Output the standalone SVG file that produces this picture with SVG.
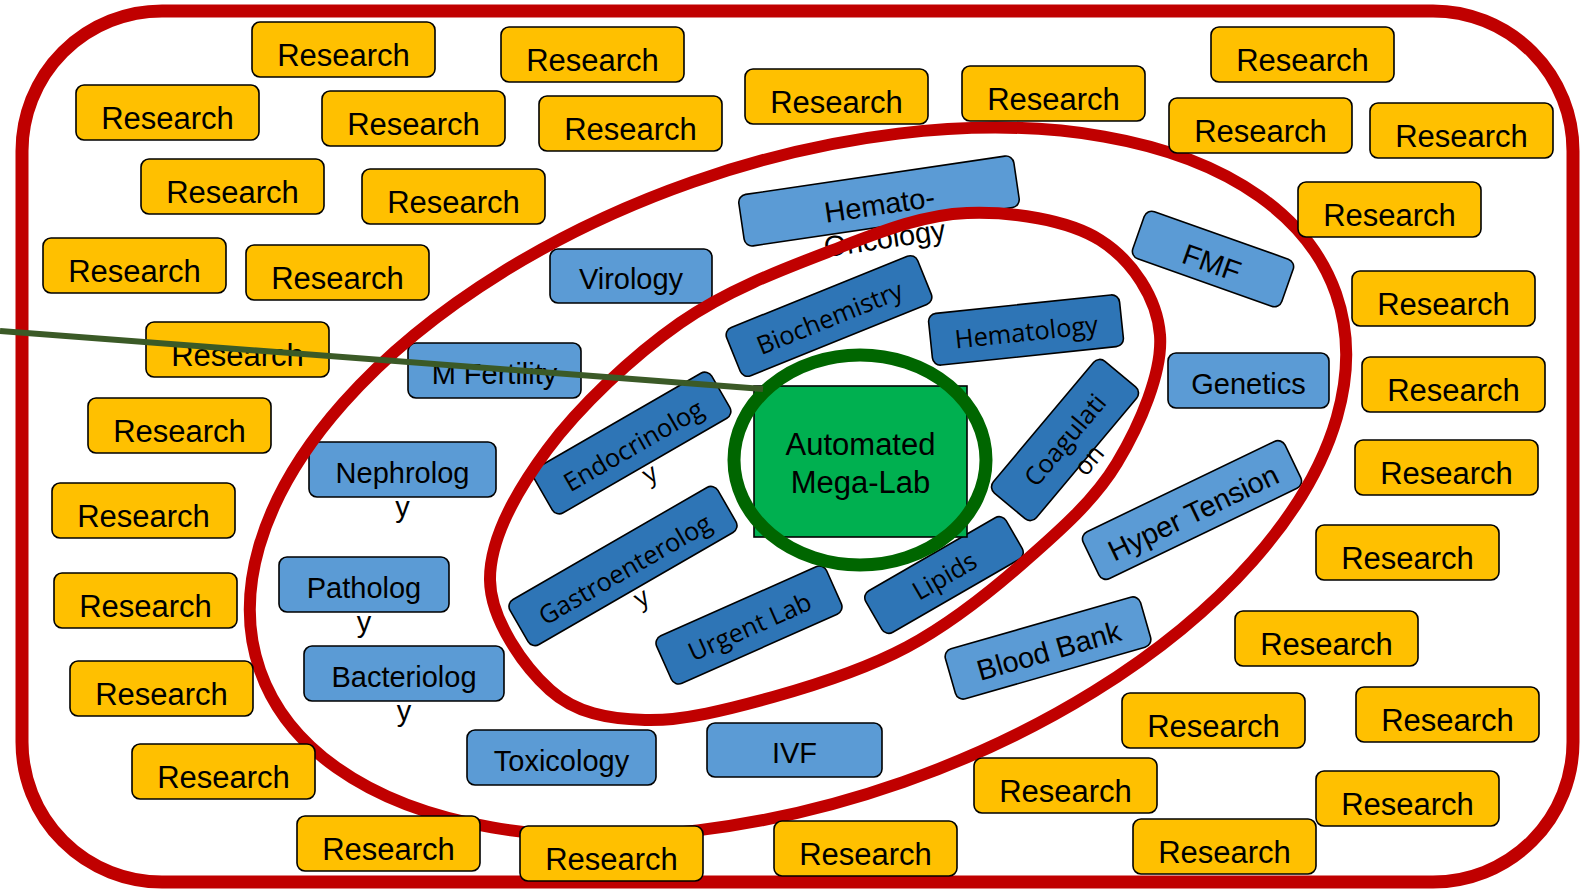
<svg xmlns="http://www.w3.org/2000/svg" width="1580" height="889" viewBox="0 0 1580 889">
<style>
.r{fill:#FFC000;stroke:#000;stroke-width:1.6}
.lb{fill:#5B9BD5;stroke:#000;stroke-width:1.6}
.db{fill:#2E75B6;stroke:#000;stroke-width:1.6}
.t{font-family:"Liberation Sans",Arial,sans-serif;font-size:31px;text-anchor:middle;fill:#000}
.tb{font-family:"Liberation Sans",Arial,sans-serif;font-size:29px;text-anchor:middle;fill:#000}
.td{font-family:"Open Sans","Noto Sans",sans-serif;font-size:25.5px;text-anchor:middle;fill:#000}
.ring{fill:none;stroke:#C00000;stroke-width:12}
</style>
<rect x="0" y="0" width="1580" height="889" fill="#fff"/>
<rect id="frame" x="22" y="11" width="1551" height="871" rx="140" fill="none" stroke="#C00000" stroke-width="13"/>

<g id="n-virology"><rect class="lb" x="550" y="249" width="162" height="54" rx="8"/><text class="tb" x="631" y="289">Virology</text></g>
<g id="n-mfertility"><rect class="lb" x="408" y="343" width="173" height="55" rx="8"/><text class="tb" x="494.5" y="384">M Fertility</text></g>
<g id="n-nephrology"><rect class="lb" x="309" y="442" width="187" height="55" rx="8"/><text class="tb" x="402.5" y="483">Nephrolog</text><text class="tb" x="402.5" y="517">y</text></g>
<g id="n-pathology"><rect class="lb" x="279" y="557" width="170" height="55" rx="8"/><text class="tb" x="364" y="598">Patholog</text><text class="tb" x="364" y="632">y</text></g>
<g id="n-bacteriology"><rect class="lb" x="304" y="646" width="200" height="55" rx="8"/><text class="tb" x="404" y="687">Bacteriolog</text><text class="tb" x="404" y="721">y</text></g>
<g id="n-toxicology"><rect class="lb" x="467" y="730" width="189" height="55" rx="8"/><text class="tb" x="561.5" y="771">Toxicology</text></g>
<g id="n-ivf"><rect class="lb" x="707" y="723" width="175" height="54" rx="8"/><text class="tb" x="794.5" y="763">IVF</text></g>
<g id="n-genetics"><rect class="lb" x="1168" y="353" width="161" height="55" rx="8"/><text class="tb" x="1248.5" y="394">Genetics</text></g>
<g id="n-hemonc" transform="translate(879,201) rotate(-8.4)"><rect class="lb" x="-139" y="-26" width="278" height="52" rx="8"/><text class="tb" y="13.8">Hemato-</text><text class="tb" y="47.8">Oncology</text></g>
<g id="n-hypertension" transform="translate(1192,510) rotate(-25.7)"><rect class="lb" x="-112" y="-26" width="224" height="52" rx="8"/><text class="tb" y="13">Hyper Tension</text></g>
<g id="n-bloodbank" transform="translate(1048,648) rotate(-16)"><rect class="lb" x="-101.5" y="-26" width="203" height="52" rx="8"/><text class="tb" y="13">Blood Bank</text></g>

<g id="n-biochemistry" transform="translate(829,316) rotate(-22)"><rect class="db" x="-103" y="-26" width="206" height="52" rx="8"/><text class="td" y="11">Biochemistry</text></g>
<g id="n-hematology" transform="translate(1026,330) rotate(-6)"><rect class="db" x="-96" y="-26" width="192" height="52" rx="8"/><text class="td" y="11">Hematology</text></g>
<g id="n-coagulation" transform="translate(1065,440) rotate(-50)"><rect class="db" x="-86" y="-28" width="172" height="56" rx="8"/><text class="td" y="9">Coagulati</text><text class="td" y="40">on</text></g>
<g id="n-endocrinology" transform="translate(632,443) rotate(-30)"><rect class="db" x="-102.5" y="-26" width="205" height="52" rx="8"/><text class="td" y="12">Endocrinolog</text><text class="td" y="44">y</text></g>
<g id="n-gastro" transform="translate(623,566) rotate(-30)"><rect class="db" x="-120" y="-26" width="240" height="52" rx="8"/><text class="td" y="13">Gastroenterolog</text><text class="td" y="45">y</text></g>
<g id="n-urgent" transform="translate(749,625) rotate(-24)"><rect class="db" x="-93" y="-26" width="186" height="52" rx="8"/><text class="td" y="11">Urgent Lab</text></g>
<g id="n-lipids" transform="translate(944,575) rotate(-30)"><rect class="db" x="-81" y="-24" width="162" height="48" rx="8"/><text class="td" y="10">Lipids</text></g>

<g id="rings">
<ellipse class="ring" cx="798" cy="482" rx="570" ry="318" transform="rotate(-19.3 798 482)"/>
<path class="ring" d="M967,213 C1011.5,211.3 1067.8,219.7 1100,240 C1132.2,260.3 1157.2,297.8 1160,335 C1162.8,372.2 1139.8,425 1117,463 C1094.2,501 1058,532.3 1023,563 C988,593.7 948.7,624.7 907,647 C865.3,669.3 816.7,684.8 773,697 C729.3,709.2 682.2,721.2 645,720 C607.8,718.8 575.8,713.3 550,690 C524.2,666.7 490.5,620 490,580 C489.5,540 515.3,492.8 547,450 C578.7,407.2 632.3,356.3 680,323 C727.7,289.7 785.2,268.3 833,250 C880.8,231.7 922.5,214.7 967,213 Z"/>
</g>

<g id="n-fmf" transform="translate(1213,259) rotate(19.5)"><rect class="lb" x="-79" y="-25" width="158" height="50" rx="8"/><text class="tb" y="14">FMF</text></g>

<g id="r1" transform="translate(252,22)"><rect class="r" width="183" height="55" rx="8"/><text class="t" x="91.5" y="44">Research</text></g>
<g id="r2" transform="translate(501,27)"><rect class="r" width="183" height="55" rx="8"/><text class="t" x="91.5" y="44">Research</text></g>
<g id="r3" transform="translate(76,85)"><rect class="r" width="183" height="55" rx="8"/><text class="t" x="91.5" y="44">Research</text></g>
<g id="r4" transform="translate(322,91)"><rect class="r" width="183" height="55" rx="8"/><text class="t" x="91.5" y="44">Research</text></g>
<g id="r5" transform="translate(539,96)"><rect class="r" width="183" height="55" rx="8"/><text class="t" x="91.5" y="44">Research</text></g>
<g id="r6" transform="translate(745,69)"><rect class="r" width="183" height="55" rx="8"/><text class="t" x="91.5" y="44">Research</text></g>
<g id="r7" transform="translate(962,66)"><rect class="r" width="183" height="55" rx="8"/><text class="t" x="91.5" y="44">Research</text></g>
<g id="r8" transform="translate(1211,27)"><rect class="r" width="183" height="55" rx="8"/><text class="t" x="91.5" y="44">Research</text></g>
<g id="r9" transform="translate(1169,98)"><rect class="r" width="183" height="55" rx="8"/><text class="t" x="91.5" y="44">Research</text></g>
<g id="r10" transform="translate(1370,103)"><rect class="r" width="183" height="55" rx="8"/><text class="t" x="91.5" y="44">Research</text></g>
<g id="r11" transform="translate(141,159)"><rect class="r" width="183" height="55" rx="8"/><text class="t" x="91.5" y="44">Research</text></g>
<g id="r12" transform="translate(362,169)"><rect class="r" width="183" height="55" rx="8"/><text class="t" x="91.5" y="44">Research</text></g>
<g id="r13" transform="translate(1298,182)"><rect class="r" width="183" height="55" rx="8"/><text class="t" x="91.5" y="44">Research</text></g>
<g id="r14" transform="translate(43,238)"><rect class="r" width="183" height="55" rx="8"/><text class="t" x="91.5" y="44">Research</text></g>
<g id="r15" transform="translate(246,245)"><rect class="r" width="183" height="55" rx="8"/><text class="t" x="91.5" y="44">Research</text></g>
<g id="r16" transform="translate(1352,271)"><rect class="r" width="183" height="55" rx="8"/><text class="t" x="91.5" y="44">Research</text></g>
<g id="r17" transform="translate(146,322)"><rect class="r" width="183" height="55" rx="8"/><text class="t" x="91.5" y="44">Research</text></g>
<g id="r18" transform="translate(1362,357)"><rect class="r" width="183" height="55" rx="8"/><text class="t" x="91.5" y="44">Research</text></g>
<g id="r19" transform="translate(88,398)"><rect class="r" width="183" height="55" rx="8"/><text class="t" x="91.5" y="44">Research</text></g>
<g id="r20" transform="translate(1355,440)"><rect class="r" width="183" height="55" rx="8"/><text class="t" x="91.5" y="44">Research</text></g>
<g id="r21" transform="translate(52,483)"><rect class="r" width="183" height="55" rx="8"/><text class="t" x="91.5" y="44">Research</text></g>
<g id="r22" transform="translate(1316,525)"><rect class="r" width="183" height="55" rx="8"/><text class="t" x="91.5" y="44">Research</text></g>
<g id="r23" transform="translate(54,573)"><rect class="r" width="183" height="55" rx="8"/><text class="t" x="91.5" y="44">Research</text></g>
<g id="r24" transform="translate(1235,611)"><rect class="r" width="183" height="55" rx="8"/><text class="t" x="91.5" y="44">Research</text></g>
<g id="r25" transform="translate(70,661)"><rect class="r" width="183" height="55" rx="8"/><text class="t" x="91.5" y="44">Research</text></g>
<g id="r26" transform="translate(1122,693)"><rect class="r" width="183" height="55" rx="8"/><text class="t" x="91.5" y="44">Research</text></g>
<g id="r27" transform="translate(1356,687)"><rect class="r" width="183" height="55" rx="8"/><text class="t" x="91.5" y="44">Research</text></g>
<g id="r28" transform="translate(132,744)"><rect class="r" width="183" height="55" rx="8"/><text class="t" x="91.5" y="44">Research</text></g>
<g id="r29" transform="translate(974,758)"><rect class="r" width="183" height="55" rx="8"/><text class="t" x="91.5" y="44">Research</text></g>
<g id="r30" transform="translate(1316,771)"><rect class="r" width="183" height="55" rx="8"/><text class="t" x="91.5" y="44">Research</text></g>
<g id="r31" transform="translate(297,816)"><rect class="r" width="183" height="55" rx="8"/><text class="t" x="91.5" y="44">Research</text></g>
<g id="r32" transform="translate(520,826)"><rect class="r" width="183" height="55" rx="8"/><text class="t" x="91.5" y="44">Research</text></g>
<g id="r33" transform="translate(774,821)"><rect class="r" width="183" height="55" rx="8"/><text class="t" x="91.5" y="44">Research</text></g>
<g id="r34" transform="translate(1133,819)"><rect class="r" width="183" height="55" rx="8"/><text class="t" x="91.5" y="44">Research</text></g>

<g id="n-megalab">
<rect x="754" y="386" width="213" height="151" fill="#00B050" stroke="#000" stroke-width="1.6"/>
<ellipse cx="860" cy="460" rx="126" ry="105" fill="none" stroke="#006600" stroke-width="13"/>
<text class="t" x="860.5" y="455">Automated</text>
<text class="t" x="860.5" y="493">Mega-Lab</text>
</g>

<g id="connectors">
<line x1="0" y1="331" x2="763" y2="389" stroke="#3B5A27" stroke-width="6"/>
</g>
</svg>
